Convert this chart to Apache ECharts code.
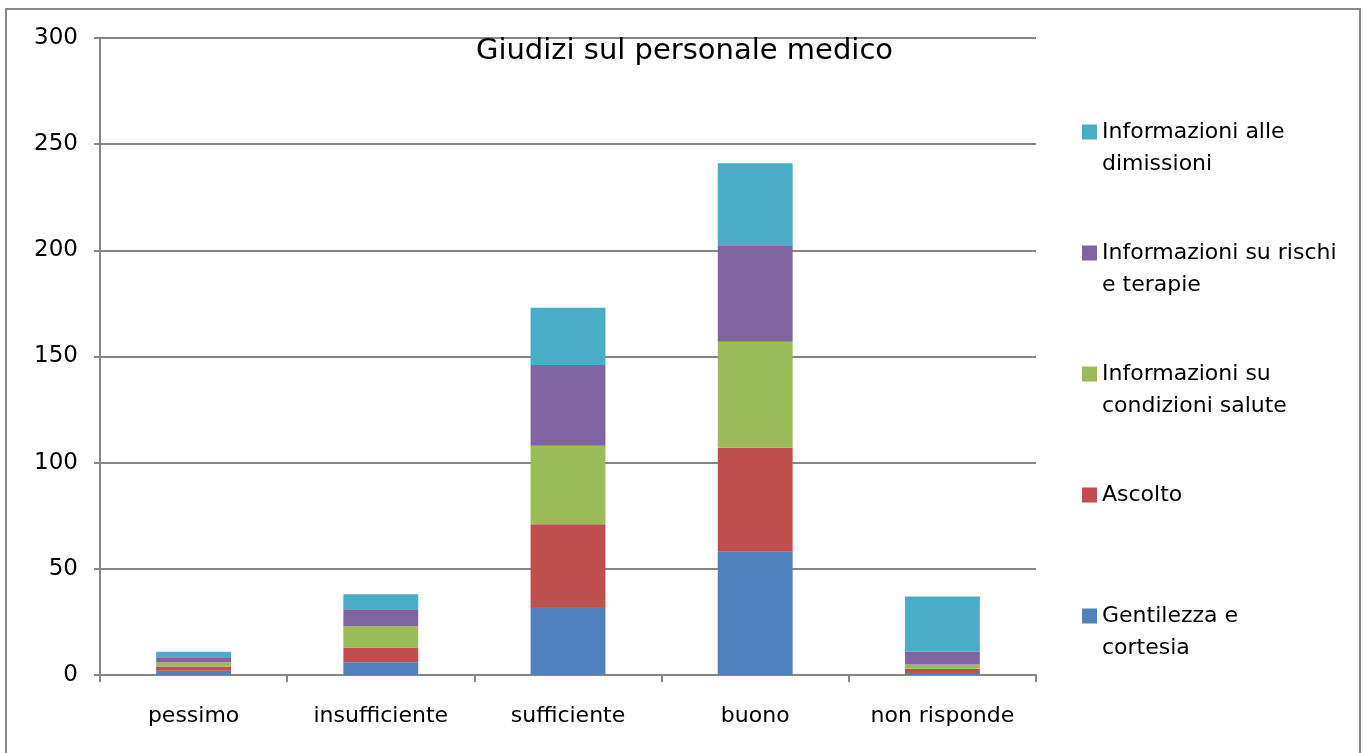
<!DOCTYPE html>
<html>
<head>
<meta charset="utf-8">
<title>Giudizi sul personale medico</title>
<script src="https://cdn.jsdelivr.net/npm/echarts@6/dist/echarts.min.js"></script>
<style>
  html, body { margin: 0; padding: 0; background: #fff; }
  #main { width: 1369px; height: 753px; }
</style>
</head>
<body>
<div id="main"></div>
<script>
// categorie (asse x)
var categories = ['pessimo', 'insufficiente', 'sufficiente', 'buono', 'non risponde'];
// serie, dal basso verso l'alto
var gentilezza = [2, 6, 32, 58, 1];
var ascolto = [2, 7, 39, 49, 2];
var condizioni = [2, 10, 37, 50, 2];
var rischi = [2, 8, 38, 45, 6];
var dimissioni = [3, 7, 27, 39, 26];
// tacche asse y
var yTicks = [0, 50, 100, 150, 200, 250, 300];

var seriesNames = ['Gentilezza e cortesia', 'Ascolto', 'Informazioni su condizioni salute',
  'Informazioni su rischi e terapie', 'Informazioni alle dimissioni'];
var seriesData = [gentilezza, ascolto, condizioni, rischi, dimissioni];
var colors = ['#4F81BD', '#C0504D', '#9BBB59', '#8064A2', '#4BACC6'];

// testo della legenda su due righe
var legendText = {
  'Informazioni alle dimissioni': 'Informazioni alle\ndimissioni',
  'Informazioni su rischi e terapie': 'Informazioni su rischi\ne terapie',
  'Informazioni su condizioni salute': 'Informazioni su\ncondizioni salute',
  'Ascolto': 'Ascolto\n ',
  'Gentilezza e cortesia': 'Gentilezza e\ncortesia'
};

var font = '"DejaVu Sans", sans-serif';
var chart = echarts.init(document.getElementById('main'));

var series = seriesNames.map(function (name, i) {
  return {
    name: name,
    type: 'bar',
    stack: 'tot',
    barWidth: '40%',
    data: seriesData[i],
    itemStyle: { color: colors[i] }
  };
});

var option = {
  animation: false,
  color: colors,
  title: {
    text: 'Giudizi sul personale medico',
    left: 'center',
    top: 32,
    textStyle: { fontFamily: font, fontSize: 29, fontWeight: 'normal', color: '#000' }
  },
  legend: {
    orient: 'vertical',
    left: 1077,
    top: 111,
    itemGap: 57,
    itemWidth: 15,
    itemHeight: 47,
    // quadratino in alto, allineato alla prima riga del testo
    icon: 'path://M0,0h15v15h-15z M0,46.9h0.1v0.1h-0.1z',
    data: seriesNames.slice().reverse(),
    formatter: function (name) { return legendText[name]; },
    textStyle: { fontFamily: font, fontSize: 22, lineHeight: 32, color: '#000' }
  },
  grid: { left: 100, right: 333, top: 38, bottom: 78 },
  xAxis: {
    type: 'category',
    data: categories,
    axisLine: { lineStyle: { color: '#868686', width: 2 } },
    axisTick: { show: true, length: 7, lineStyle: { color: '#868686', width: 2 } },
    axisLabel: { margin: 30, fontFamily: font, fontSize: 22, color: '#000' }
  },
  yAxis: {
    type: 'value',
    min: yTicks[0],
    max: yTicks[yTicks.length - 1],
    interval: yTicks[1] - yTicks[0],
    axisLine: { show: true, lineStyle: { color: '#868686', width: 2 } },
    axisTick: { show: true, length: 6, lineStyle: { color: '#868686', width: 2 } },
    axisLabel: { margin: 22, fontFamily: font, fontSize: 23, color: '#000' },
    splitLine: { lineStyle: { color: '#868686', width: 2 } }
  },
  graphic: [{
    type: 'rect',
    shape: { x: 6, y: 9, width: 1354, height: 760 },
    style: { fill: 'none', stroke: '#898989', lineWidth: 2 },
    silent: true,
    z: -1
  }],
  series: series
};
chart.setOption(option);
</script>
</body>
</html>
